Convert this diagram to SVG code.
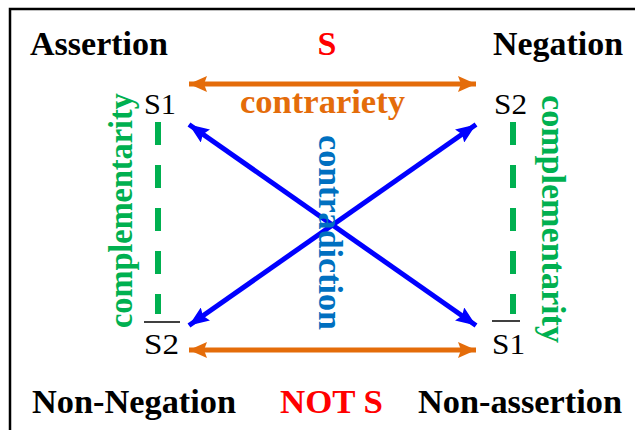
<svg xmlns="http://www.w3.org/2000/svg" width="635" height="430" viewBox="0 0 635 430">
<style>
text{font-family:'Liberation Serif','Times New Roman',serif}
.b{font-weight:bold;font-size:34px}
.r{font-size:30px;fill:#000}
.k{fill:#000}
.red{fill:#FF0000}
.or{fill:#E46C0A}
.gr{fill:#00B050}
.bl{fill:#0070C0}
.ol{stroke:#000;stroke-width:1.5}
.oa{stroke:#E46C0A;stroke-width:5;fill:none}
.ba{stroke:#0000FF;stroke-width:5;fill:none}
.gd{stroke:#00B050;stroke-width:6;stroke-dasharray:23 20;fill:none}
</style>
<defs>
<marker id="ho" viewBox="0 0 18 16" refX="18" refY="8" markerWidth="18" markerHeight="16" markerUnits="userSpaceOnUse" orient="auto-start-reverse"><path d="M0,0 L18,8 L0,16 L3,8 Z" fill="#E46C0A"/></marker>
<marker id="hb" viewBox="0 0 20 16" refX="20" refY="8" markerWidth="20" markerHeight="16" markerUnits="userSpaceOnUse" orient="auto-start-reverse"><path d="M0,0 L20,8 L0,16 L3,8 Z" fill="#0000FF"/></marker>
</defs>
<rect x="10" y="9" width="640" height="440" fill="#fff" stroke="#000" stroke-width="2.5"/>
<g id="connectors">
<line class="oa" x1="189" y1="84" x2="476" y2="84" marker-start="url(#ho)" marker-end="url(#ho)"/>
<line class="oa" x1="189" y1="350" x2="476" y2="350" marker-start="url(#ho)" marker-end="url(#ho)"/>
<line class="ba" x1="189" y1="124.5" x2="476" y2="325.5" marker-start="url(#hb)" marker-end="url(#hb)"/>
<line class="ba" x1="476" y1="124.5" x2="189" y2="325.5" marker-start="url(#hb)" marker-end="url(#hb)"/>
<line class="gd" x1="158" y1="122" x2="158" y2="314"/>
<line class="gd" x1="513" y1="122" x2="513" y2="314"/>
</g>
<g id="assertion"><text class="b k" x="30" y="55" textLength="138" lengthAdjust="spacingAndGlyphs">Assertion</text></g>
<g id="s-label"><text class="b red" x="327" y="55" text-anchor="middle">S</text></g>
<g id="negation"><text class="b k" x="493" y="55" textLength="130" lengthAdjust="spacingAndGlyphs">Negation</text></g>
<g id="s1-top"><text class="r" x="144" y="114" textLength="32" lengthAdjust="spacingAndGlyphs">S1</text></g>
<g id="s2-top"><text class="r" x="494" y="114" textLength="33" lengthAdjust="spacingAndGlyphs">S2</text></g>
<g id="s2-bottom"><line class="ol" x1="144" y1="322" x2="180" y2="322"/><text class="r" x="144" y="354" textLength="35" lengthAdjust="spacingAndGlyphs">S2</text></g>
<g id="s1-bottom"><line class="ol" x1="492" y1="321" x2="520" y2="321"/><text class="r" x="492" y="354" textLength="33" lengthAdjust="spacingAndGlyphs">S1</text></g>
<g id="contrariety"><text class="b or" x="240" y="113" textLength="165" lengthAdjust="spacingAndGlyphs">contrariety</text></g>
<g id="contradiction"><text class="b bl" transform="translate(319,135) rotate(90)" textLength="195" lengthAdjust="spacingAndGlyphs">contradiction</text></g>
<g id="complementarity-left"><text class="b gr" transform="translate(132,328) rotate(-90)" textLength="235" lengthAdjust="spacingAndGlyphs">complementarity</text></g>
<g id="complementarity-right"><text class="b gr" transform="translate(542,95) rotate(90)" textLength="248" lengthAdjust="spacingAndGlyphs">complementarity</text></g>
<g id="non-negation"><text class="b k" x="32" y="413" textLength="204" lengthAdjust="spacingAndGlyphs">Non-Negation</text></g>
<g id="not-s"><text class="b red" x="280" y="413" textLength="103" lengthAdjust="spacingAndGlyphs">NOT S</text></g>
<g id="non-assertion"><text class="b k" x="418" y="413" textLength="204" lengthAdjust="spacingAndGlyphs">Non-assertion</text></g>
</svg>
